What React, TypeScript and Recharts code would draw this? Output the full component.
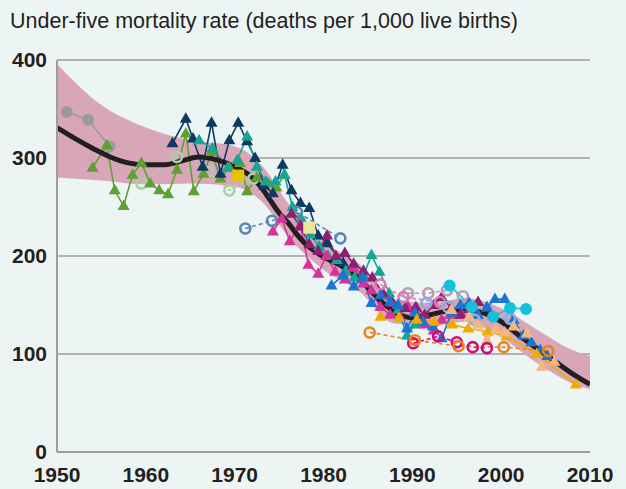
import React from 'react';
import { ComposedChart, Area, Line, XAxis, YAxis, CartesianGrid } from 'recharts';

// trend line with its uncertainty band
const trendYears = [1950, 1952, 1954, 1956, 1958, 1960, 1962, 1964, 1966, 1968, 1970, 1972, 1973, 1974, 1975, 1976, 1977, 1978, 1979, 1980, 1982, 1984, 1986, 1988, 1990, 1992, 1994, 1996, 1998, 2000, 2002, 2004, 2006, 2008, 2010];
const trendValues = [331, 320, 310, 301, 295, 293, 293, 297, 301, 298, 291, 280, 270, 257, 244, 234, 222, 212, 205, 199, 190, 177, 158, 143, 137, 140, 144, 145, 142, 133, 119, 106, 93, 80, 69];
const bandYears = [1950, 1955, 1960, 1965, 1970, 1973, 1976, 1980, 1984, 1988, 1992, 1996, 2000, 2004, 2008, 2010];
const bandLow = [280, 277, 273, 274, 271, 256, 220, 186, 164, 131, 129, 133, 117, 91, 70, 64];
const bandHigh = [396, 354, 331, 318, 312, 293, 254, 215, 192, 156, 152, 157, 147, 125, 104, 98];

// country / survey series: [year, value]
const grayPts = [[1951.1, 347], [1953.5, 339], [1955.9, 312]];
const greenPts = [[1954.0, 290], [1955.6, 313], [1956.5, 267], [1957.5, 251], [1958.5, 283], [1959.5, 295], [1960.5, 274], [1961.5, 267], [1962.5, 263], [1963.5, 288], [1964.5, 325], [1965.4, 266], [1966.5, 284], [1967.4, 306], [1968.4, 279], [1969.4, 290], [1970.6, 295], [1971.4, 266], [1972.5, 280], [1973.8, 274], [1974.7, 270], [1975.6, 283]];
const navyPts = [[1963.0, 315], [1964.5, 340], [1965.3, 320], [1966.4, 291], [1967.4, 336], [1968.4, 284], [1969.4, 318], [1970.4, 336], [1971.4, 317], [1972.3, 300], [1973.3, 272], [1974.3, 264], [1975.4, 293], [1976.4, 267], [1977.4, 254], [1978.4, 249], [1979.4, 221], [1980.4, 213], [1982.2, 193]];
const tealPts = [[1966.0, 318], [1967.5, 310], [1969.2, 290], [1970.3, 298], [1971.4, 322], [1972.5, 291], [1973.5, 276], [1974.6, 276], [1975.6, 283], [1976.5, 250], [1977.5, 238], [1978.5, 222], [1979.5, 210], [1980.5, 200], [1981.5, 196], [1982.5, 185], [1983.5, 178], [1984.5, 180], [1985.4, 201], [1986.3, 184], [1987.4, 162], [1988.4, 145], [1989.4, 119], [1990.3, 130]];
const magentaPts = [[1974.3, 225], [1975.3, 238], [1976.2, 215], [1977.4, 232], [1978.3, 191], [1979.4, 182], [1980.3, 200], [1981.3, 184], [1982.4, 176], [1983.4, 188], [1984.5, 172], [1985.4, 165], [1986.4, 148], [1987.5, 140], [1988.6, 138], [1989.4, 150], [1990.3, 145], [1991.4, 130], [1992.4, 124], [1993.3, 135], [1994.4, 140], [1995.6, 140]];
const purplePts = [[1976.4, 243], [1977.4, 230], [1978.4, 212], [1979.4, 205], [1980.4, 221], [1981.4, 200], [1982.4, 203], [1983.4, 192], [1984.5, 185], [1985.5, 178], [1986.7, 162], [1987.8, 152], [1989.2, 147], [1990.4, 148], [1991.4, 140], [1992.4, 150], [1993.3, 158], [1994.4, 147], [1995.4, 140], [1996.4, 146], [1997.4, 153], [1998.4, 147]];
const bluePts = [[1980.9, 170], [1982.2, 180], [1983.4, 169], [1984.4, 178], [1985.4, 152], [1986.4, 160], [1987.5, 153], [1988.4, 150], [1989.4, 126], [1990.3, 142], [1991.2, 133], [1992.3, 128], [1993.3, 116], [1994.4, 142], [1995.4, 150], [1996.4, 152], [1997.4, 140], [1998.4, 148], [1999.3, 156], [2000.4, 156], [2001.4, 135], [2002.5, 119], [2003.4, 112], [2004.4, 104], [2005.2, 98]];
const goldPts = [[1986.4, 138], [1988.5, 137], [1990.5, 135], [1992.5, 133], [1994.5, 130], [1996.3, 126], [1998.5, 123], [2000.6, 118], [2004.0, 100], [2008.4, 69]];
const peachPts = [[1994.4, 145], [1996.4, 138], [1997.4, 130], [1998.4, 114], [1999.4, 125], [2000.4, 122], [2001.4, 128], [2002.9, 121], [2004.6, 87], [2006.0, 92]];
const cyanPts = [[1994.2, 170], [1996.7, 148], [1999.1, 138], [2001.0, 147], [2002.8, 146]];
const mauvePts = [[1989.5, 162], [1991.8, 162], [1993.9, 165], [1995.7, 159]];
const pinkPts = [[1986.4, 171], [1989.0, 158], [1993.1, 153]];
const lightBluePts = [[1991.6, 152], [1994.0, 148], [1997.0, 135], [2001.0, 136]];
const crimsonPts = [[1990.1, 111], [1992.9, 118], [1995.0, 112], [1996.8, 107], [1998.4, 106]];
const orangePts = [[1985.2, 122], [1990.3, 114], [1995.2, 108], [2000.3, 107], [2005.3, 103]];
const paleGreenPts = [[1959.5, 274], [1963.5, 301], [1967.0, 286], [1969.4, 267], [1972.1, 279]];
const steelPts = [[1971.2, 228], [1974.2, 236], [1977.0, 245], [1981.9, 218]];
const yellowPts = [[1970.4, 282]];
const paleYellowPts = [[1978.4, 229]];

const xTicks = [1950, 1960, 1970, 1980, 1990, 2000, 2010];
const yTicks = [0, 100, 200, 300, 400];

const BG = '#edf5f4';
const GRID = '#9d9d9d';
const INK = '#231f20';
const FONT = "'Liberation Sans', Arial, sans-serif";

const toRows = (pts: number[][]) => pts.map(([year, v]) => ({ year, v }));

const trendData = trendYears.map((year, i) => ({ year, trend: trendValues[i] }));
const bandData = bandYears.map((year, i) => ({ year, band: [bandLow[i], bandHigh[i]] }));

type Marker = 'tri' | 'ring' | 'dot' | 'square';

const makeDot = (marker: Marker, color: string) => (props: any) => {
  const { cx, cy, index } = props;
  if (cx == null || cy == null) return <g key={index} />;
  if (marker === 'tri') {
    return <path key={index} d={`M${cx},${cy - 6.5}L${cx + 6},${cy + 4}L${cx - 6},${cy + 4}Z`} fill={color} />;
  }
  if (marker === 'ring') {
    return <circle key={index} cx={cx} cy={cy} r={5} fill="none" stroke={color} strokeWidth={2.6} />;
  }
  if (marker === 'square') {
    return <rect key={index} x={cx - 6} y={cy - 6} width={12} height={12} fill={color} />;
  }
  return <circle key={index} cx={cx} cy={cy} r={6} fill={color} />;
};

const series: { name: string; pts: number[][]; color: string; marker: Marker; dashed?: boolean }[] = [
  { name: 'gray', pts: grayPts, color: '#9b9b9b', marker: 'dot' },
  { name: 'paleGreen', pts: paleGreenPts, color: '#a9d0a2', marker: 'ring', dashed: true },
  { name: 'green', pts: greenPts, color: '#5ea032', marker: 'tri' },
  { name: 'navy', pts: navyPts, color: '#0b3a64', marker: 'tri' },
  { name: 'teal', pts: tealPts, color: '#14a596', marker: 'tri' },
  { name: 'steel', pts: steelPts, color: '#5888b0', marker: 'ring', dashed: true },
  { name: 'magenta', pts: magentaPts, color: '#d6329c', marker: 'tri' },
  { name: 'purple', pts: purplePts, color: '#8c2170', marker: 'tri' },
  { name: 'mauve', pts: mauvePts, color: '#b89db5', marker: 'ring', dashed: true },
  { name: 'pink', pts: pinkPts, color: '#d97ab6', marker: 'ring', dashed: true },
  { name: 'blue', pts: bluePts, color: '#1b74cf', marker: 'tri' },
  { name: 'lightBlue', pts: lightBluePts, color: '#8aaddf', marker: 'ring', dashed: true },
  { name: 'gold', pts: goldPts, color: '#f0aa00', marker: 'tri' },
  { name: 'peach', pts: peachPts, color: '#f6b682', marker: 'tri' },
  { name: 'cyan', pts: cyanPts, color: '#14c1dd', marker: 'dot' },
  { name: 'crimson', pts: crimsonPts, color: '#cf0a7d', marker: 'ring', dashed: true },
  { name: 'orange', pts: orangePts, color: '#e9831f', marker: 'ring', dashed: true },
  { name: 'yellow', pts: yellowPts, color: '#e2c600', marker: 'square' },
  { name: 'paleYellow', pts: paleYellowPts, color: '#efe49a', marker: 'square' },
];

export default function App() {
  return (
    <div style={{ position: 'absolute', left: 0, top: 0, width: 626, height: 489, background: BG, overflow: 'hidden' }}>
      <div style={{ position: 'absolute', left: 10, top: 9, fontFamily: FONT, fontSize: 21.5, color: INK, whiteSpace: 'nowrap' }}>
        Under-five mortality rate (deaths per 1,000 live births)
      </div>
      <ComposedChart width={626} height={489} data={bandData} margin={{ top: 60, right: 36, bottom: 0, left: 0 }}>
        <CartesianGrid vertical={false} stroke={GRID} strokeWidth={1.5} />
        <XAxis
          dataKey="year"
          type="number"
          domain={[1950, 2010]}
          ticks={xTicks}
          allowDataOverflow
          height={37}
          tickLine={false}
          axisLine={{ stroke: GRID, strokeWidth: 2 }}
          tick={{ fill: INK, fontSize: 21, fontWeight: 'bold', fontFamily: FONT }}
          tickMargin={9}
        />
        <YAxis
          type="number"
          domain={[0, 400]}
          ticks={yTicks}
          width={57}
          tickLine={false}
          axisLine={{ stroke: GRID, strokeWidth: 2 }}
          tick={{ fill: INK, fontSize: 21, fontWeight: 'bold', fontFamily: FONT }}
          tickMargin={4}
        />
        <Area dataKey="band" type="monotone" stroke="none" fill="#d8a6b8" fillOpacity={1} isAnimationActive={false} />
        {series.map((s) => (
          <Line
            key={s.name}
            data={toRows(s.pts)}
            dataKey="v"
            type="linear"
            stroke={s.color}
            strokeWidth={1.6}
            strokeDasharray={s.dashed ? '4 3' : undefined}
            dot={makeDot(s.marker, s.color)}
            activeDot={false}
            isAnimationActive={false}
          />
        ))}
        <Line data={trendData} dataKey="trend" type="monotone" stroke={INK} strokeWidth={5} dot={false} activeDot={false} isAnimationActive={false} />
      </ComposedChart>
    </div>
  );
}
